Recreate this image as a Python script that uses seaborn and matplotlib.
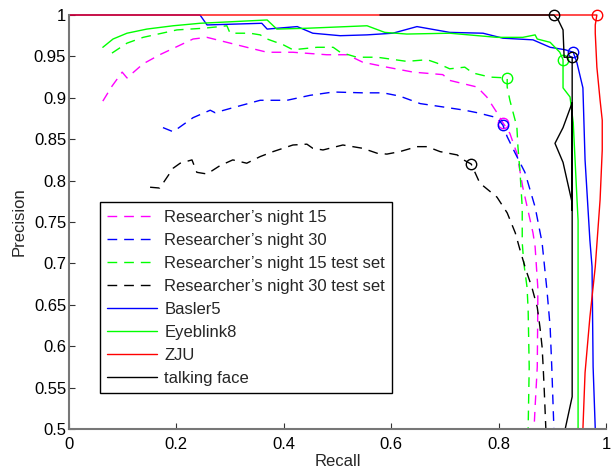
import matplotlib
matplotlib.use("Agg")
import matplotlib.pyplot as plt
import seaborn as sns
import pandas as pd

# ---------------- data ----------------
labels = ["Researcher\u2019s night 15", "Researcher\u2019s night 30",
          "Researcher\u2019s night 15 test set", "Researcher\u2019s night 30 test set",
          "Basler5", "Eyeblink8", "ZJU", "talking face"]

rn15_recall = [0.063, 0.080, 0.099, 0.108, 0.138, 0.169, 0.231, 0.257, 0.294, 0.331, 0.369,
               0.417, 0.480, 0.518, 0.547, 0.592, 0.641, 0.696, 0.709, 0.760, 0.778, 0.797,
               0.808, 0.821, 0.834, 0.845, 0.864, 0.868, 0.873, 0.873, 0.872, 0.868, 0.866]
rn15_precision = [0.896, 0.914, 0.931, 0.924, 0.941, 0.952, 0.971, 0.973, 0.967, 0.961, 0.955,
                  0.955, 0.952, 0.952, 0.943, 0.937, 0.931, 0.928, 0.921, 0.913, 0.901, 0.882,
                  0.870, 0.857, 0.833, 0.792, 0.737, 0.720, 0.671, 0.647, 0.575, 0.527, 0.500]
rn15_op = 22

rn30_recall = [0.175, 0.194, 0.231, 0.263, 0.272, 0.305, 0.356, 0.406, 0.449, 0.492, 0.547,
               0.585, 0.616, 0.654, 0.696, 0.737, 0.760, 0.797, 0.808, 0.816, 0.831, 0.849,
               0.868, 0.881, 0.890, 0.896, 0.899, 0.903]
rn30_precision = [0.864, 0.859, 0.876, 0.885, 0.882, 0.888, 0.897, 0.897, 0.903, 0.907, 0.906,
                  0.906, 0.902, 0.893, 0.889, 0.885, 0.882, 0.876, 0.867, 0.853, 0.833, 0.810,
                  0.768, 0.725, 0.668, 0.623, 0.575, 0.500]
rn30_op = 18

rn15t_recall = [0.080, 0.108, 0.138, 0.201, 0.250, 0.281, 0.294, 0.300, 0.337, 0.356, 0.369,
                0.399, 0.417, 0.462, 0.492, 0.505, 0.536, 0.574, 0.629, 0.667, 0.685, 0.709,
                0.737, 0.752, 0.784, 0.816, 0.816, 0.821, 0.834, 0.836, 0.840, 0.844, 0.844,
                0.847, 0.853, 0.855, 0.857, 0.855]
rn15t_precision = [0.954, 0.966, 0.973, 0.982, 0.984, 0.986, 0.987, 0.978, 0.978, 0.976, 0.971,
                   0.964, 0.958, 0.961, 0.961, 0.955, 0.949, 0.949, 0.944, 0.946, 0.942, 0.935,
                   0.937, 0.930, 0.925, 0.924, 0.913, 0.897, 0.865, 0.841, 0.809, 0.768, 0.725,
                   0.700, 0.671, 0.644, 0.575, 0.500]
rn15t_op = 25

rn30t_recall = [0.151, 0.169, 0.194, 0.207, 0.229, 0.238, 0.257, 0.281, 0.305, 0.331, 0.356,
                0.380, 0.417, 0.443, 0.454, 0.473, 0.510, 0.547, 0.574, 0.592, 0.616, 0.648,
                0.667, 0.691, 0.723, 0.732, 0.749, 0.765, 0.797, 0.816, 0.831, 0.840, 0.851,
                0.862, 0.872, 0.877, 0.881, 0.883, 0.885, 0.888]
rn30t_precision = [0.792, 0.791, 0.815, 0.821, 0.825, 0.810, 0.808, 0.818, 0.825, 0.821, 0.829,
                   0.835, 0.843, 0.844, 0.839, 0.837, 0.843, 0.839, 0.833, 0.832, 0.835, 0.841,
                   0.841, 0.835, 0.831, 0.826, 0.820, 0.797, 0.780, 0.761, 0.737, 0.716, 0.692,
                   0.671, 0.647, 0.623, 0.599, 0.575, 0.547, 0.500]
rn30t_op = 26

basler_recall = [0.000, 0.244, 0.257, 0.359, 0.369, 0.425, 0.454, 0.505, 0.555, 0.603, 0.648,
                 0.709, 0.771, 0.808, 0.864, 0.896, 0.924, 0.939, 0.946, 0.957, 0.961, 0.970,
                 0.974, 0.976, 0.980]
basler_precision = [1.000, 1.000, 0.988, 0.990, 0.983, 0.986, 0.978, 0.975, 0.976, 0.978, 0.986,
                    0.979, 0.978, 0.972, 0.970, 0.961, 0.958, 0.955, 0.942, 0.912, 0.825, 0.728,
                    0.696, 0.575, 0.500]
basler_op = 17

eye_recall = [0.063, 0.082, 0.108, 0.145, 0.194, 0.244, 0.369, 0.387, 0.443, 0.555, 0.588,
              0.629, 0.709, 0.797, 0.845, 0.868, 0.872, 0.896, 0.914, 0.920, 0.920, 0.933,
              0.939, 0.946, 0.948, 0.948]
eye_precision = [0.961, 0.971, 0.978, 0.983, 0.987, 0.990, 0.994, 0.983, 0.984, 0.987, 0.979,
                 0.977, 0.978, 0.973, 0.973, 0.976, 0.971, 0.967, 0.955, 0.946, 0.912, 0.901,
                 0.870, 0.777, 0.752, 0.500]
eye_op = 19

zju_recall = [0.000, 0.983, 0.980, 0.980, 0.983, 0.989, 0.993, 0.993, 0.989, 0.980, 0.970,
              0.961, 0.957]
zju_precision = [1.000, 1.000, 0.988, 0.978, 0.937, 0.897, 0.873, 0.837, 0.777, 0.696, 0.635,
                 0.568, 0.500]
zju_op = 1

tf_recall = [0.579, 0.903, 0.911, 0.920, 0.922, 0.937, 0.937, 0.937, 0.920, 0.905, 0.920,
             0.937, 0.937, 0.924]
tf_precision = [1.000, 1.000, 0.994, 0.982, 0.949, 0.949, 0.764, 0.894, 0.864, 0.845, 0.822,
                0.773, 0.539, 0.500]
tf_op = [1, 5]

xticks = [0, 0.2, 0.4, 0.6, 0.8, 1]
yticks = [0.5, 0.55, 0.6, 0.65, 0.7, 0.75, 0.8, 0.85, 0.9, 0.95, 1]
ytick_labels = ["0.5", "0.55", "0.6", "0.65", "0.7", "0.75", "0.8", "0.85", "0.9", "0.95", "1"]

# ---------------- plotting ----------------
sns.set_style("ticks")
plt.rcParams["font.family"] = ["Liberation Sans", "DejaVu Sans"]

fig = plt.figure(figsize=(6.11, 4.70), dpi=100)
ax = fig.add_axes([69 / 611, 1 - 429 / 470, 537 / 611, 414 / 470])

series = [
    (rn15_recall, rn15_precision, [rn15_op], "#ff00ff", "dashed"),
    (rn30_recall, rn30_precision, [rn30_op], "#0000ff", "dashed"),
    (rn15t_recall, rn15t_precision, [rn15t_op], "#00ff00", "dashed"),
    (rn30t_recall, rn30t_precision, [rn30t_op], "#000000", "dashed"),
    (basler_recall, basler_precision, [basler_op], "#0000ff", "solid"),
    (eye_recall, eye_precision, [eye_op], "#00ff00", "solid"),
    (zju_recall, zju_precision, [zju_op], "#ff0000", "solid"),
    (tf_recall, tf_precision, tf_op, "#000000", "solid"),
]

for (rx, py, ops, col, ls), lab in zip(series, labels):
    df = pd.DataFrame({"Recall": rx, "Precision": py})
    kw = dict(dashes=(7, 5)) if ls == "dashed" else {}
    sns.lineplot(data=df, x="Recall", y="Precision", sort=False, estimator=None,
                 color=col, linewidth=1.0, label=lab, ax=ax, clip_on=False, **kw)
    op_df = df.iloc[ops]
    ax.plot(op_df["Recall"], op_df["Precision"], linestyle="none", marker="o",
            markersize=7.5, markerfacecolor="none", markeredgecolor=col,
            markeredgewidth=1.0, clip_on=False)

ax.set_xlim(0, 1)
ax.set_ylim(0.5, 1)
ax.set_xticks(xticks)
ax.set_xticklabels([f"{t:g}" for t in xticks])
ax.set_yticks(yticks)
ax.set_yticklabels(ytick_labels)
ax.tick_params(direction="in", length=4, width=0.8, labelsize=12, colors="#333333",
               labelcolor="black")
ax.tick_params(axis="x", pad=6)
ax.tick_params(axis="y", pad=2)
for s in ["top", "right"]:
    ax.spines[s].set_visible(False)
for s in ["left", "bottom"]:
    ax.spines[s].set_color("#777777")
    ax.spines[s].set_linewidth(1.5)
ax.set_xlabel("Recall", fontsize=12, labelpad=1)
ax.set_ylabel("Precision", fontsize=12, labelpad=5)

leg = ax.legend(loc="upper left", bbox_to_anchor=(0.0577, 0.548), frameon=True,
                fancybox=False, edgecolor="black", fontsize=12, handlelength=3.0,
                handletextpad=0.4, labelspacing=0.48, borderpad=0.45, borderaxespad=0)
leg.get_frame().set_linewidth(1.0)
leg.get_frame().set_alpha(1)

fig.savefig("out.png", dpi=100, facecolor="white")
